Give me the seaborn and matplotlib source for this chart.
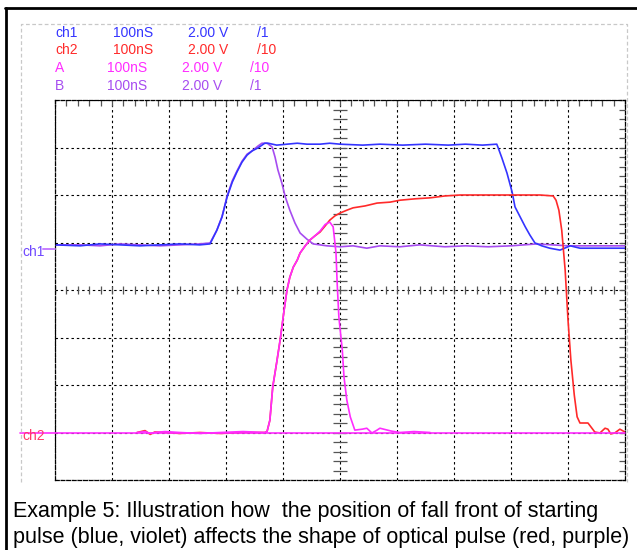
"""
Oscilloscope screenshot: starting pulse (ch1 / B) vs optical pulse (ch2 / A).
Time axis in ns (100 ns/div), vertical axis in screen divisions (2 V/div).
"""

import numpy as np
import pandas as pd
import matplotlib.pyplot as plt
from matplotlib.lines import Line2D
import seaborn as sns

# ---------------------------------------------------------------------------
# Trace data
# ---------------------------------------------------------------------------

CH1_T = [0, 44, 79, 114, 149, 184, 219, 254, 272, 284, 293, 302, 311, 319, 328,
         337, 346, 356, 368, 374, 389, 407, 425, 442, 465, 482, 500, 540, 570,
         610, 650, 690, 720, 750, 775, 777, 784, 793, 802, 807, 816, 825, 833,
         842, 854, 868, 886, 904, 921, 956, 991, 1000]
CH1_V = [0.95, 0.93, 0.97, 0.95, 0.93, 0.95, 0.97, 0.95, 0.97, 1.26, 1.54, 1.96,
         2.27, 2.48, 2.69, 2.84, 2.93, 2.99, 3.09, 3.09, 3.05, 3.07, 3.09, 3.07,
         3.07, 3.09, 3.07, 3.05, 3.07, 3.05, 3.07, 3.05, 3.07, 3.05, 3.07, 3.01,
         2.78, 2.46, 2.06, 1.75, 1.54, 1.33, 1.16, 0.99, 0.93, 0.88, 0.84, 0.93,
         0.88, 0.88, 0.88, 0.88]

B_T = [0, 44, 79, 114, 149, 184, 219, 254, 272, 284, 293, 302, 311, 319, 328,
       337, 346, 356, 363, 372, 381, 386, 391, 398, 404, 412, 421, 430, 442, 453,
       477, 500, 523, 547, 570, 605, 640, 684, 720, 760, 800, 845, 900, 950, 1000]
B_V = [0.95, 0.95, 0.93, 0.97, 0.95, 0.93, 0.95, 0.97, 0.99, 1.26, 1.54, 1.98,
       2.30, 2.50, 2.71, 2.86, 2.93, 3.03, 3.09, 3.09, 3.01, 2.80, 2.53, 2.25,
       1.96, 1.68, 1.41, 1.20, 1.07, 0.97, 0.93, 0.91, 0.93, 0.88, 0.93, 0.91,
       0.95, 0.91, 0.93, 0.91, 0.93, 0.97, 0.93, 0.93, 0.93]

CH2_T = [144, 158, 167, 175, 193, 219, 254, 290, 330, 368, 372, 377, 382, 389,
         395, 402, 407, 412, 418, 425, 430, 439, 447, 456, 465, 474, 482, 491,
         500, 512, 523, 544, 565, 588, 605, 632, 658, 684, 711, 746, 781, 816,
         851, 874, 879, 884, 889, 895, 900, 905, 911, 916, 921, 935, 942, 947,
         956, 965, 970, 975, 982, 991, 1000]
CH2_V = [-3.00, -2.96, -3.04, -2.99, -3.00, -3.02, -3.00, -3.02, -3.00, -3.00,
         -2.98, -2.74, -2.04, -1.52, -1.05, -0.42, 0.00, 0.27, 0.48, 0.63, 0.78,
         0.93, 1.05, 1.14, 1.22, 1.35, 1.47, 1.56, 1.62, 1.68, 1.73, 1.77, 1.83,
         1.85, 1.89, 1.92, 1.94, 1.98, 2.00, 2.00, 2.00, 2.00, 2.00, 1.98, 1.89,
         1.68, 1.26, 0.42, -0.63, -1.47, -2.21, -2.67, -2.80, -2.80, -2.91,
         -2.99, -3.01, -2.91, -2.93, -3.03, -3.01, -2.93, -2.99]

A_T = [144, 158, 167, 175, 193, 219, 254, 290, 330, 368, 372, 377, 382, 389,
       395, 402, 407, 412, 418, 425, 430, 439, 447, 456, 465, 474, 482, 488,
       493, 495, 498, 504, 507, 512, 518, 526, 539, 547, 556, 565, 570, 590,
       605, 630, 658]
A_V = [-3.00, -2.98, -3.02, -3.00, -2.98, -3.00, -3.02, -3.00, -2.98, -3.00,
       -2.98, -2.74, -2.04, -1.52, -1.05, -0.42, 0.00, 0.27, 0.48, 0.63, 0.78,
       0.93, 1.05, 1.14, 1.24, 1.38, 1.43, 1.33, 0.78, 0.15, -0.57, -1.26,
       -1.83, -2.32, -2.67, -2.95, -2.93, -2.91, -3.01, -2.95, -2.91, -2.97,
       -3.00, -2.98, -3.00]

CH1_LEVEL = 0.86
CH2_LEVEL = -3.0

HEADER_ROWS = [
    ("ch1", "100nS", "2.00 V", "/1"),
    ("ch2", "100nS", "2.00 V", "/10"),
    ("A", "100nS", "2.00 V", "/10"),
    ("B", "100nS", "2.00 V", "/1"),
]

CAPTION = ["Example 5: Illustration how  the position of fall front of starting",
           "pulse (blue, violet) affects the shape of optical pulse (red, purple)"]

COLORS = {"ch1": "#3434ff", "ch2": "#ff2a2a", "A": "#ff2cff", "B": "#a64cf0"}

# ---------------------------------------------------------------------------
# Figure layout (pixel helpers for a 637x550 canvas)
# ---------------------------------------------------------------------------

W, H = 637, 550


def fx(x):
    return x / W


def fy(y):
    return 1 - y / H


sns.set_theme(style="white")
plt.rcParams["font.family"] = ["Liberation Sans", "DejaVu Sans"]

fig = plt.figure(figsize=(W / 100, H / 100), dpi=100)
fig.patch.set_facecolor("white")
ax = fig.add_axes([fx(55), fy(480), fx(625) - fx(55), fy(100) - fy(480)])
ax.set_facecolor("white")

# outer black frame (top + left) and light dashed inner box
fig.add_artist(Line2D([fx(6), fx(6)], [0, fy(8)], color="black", lw=2.0))
fig.add_artist(Line2D([fx(5), 1], [fy(8), fy(8)], color="black", lw=2.0))
fig.add_artist(Line2D([fx(21), fx(21), fx(627), fx(627)],
                      [fy(482), fy(24), fy(24), fy(482)],
                      color="#c8c8c8", lw=0.9, ls=(0, (3, 2))))

# ---------------------------------------------------------------------------
# Grid, frame and ticks
# ---------------------------------------------------------------------------

ax.set_xlim(0, 1000)
ax.set_ylim(-4, 4)
ax.set_xticks(np.arange(0, 1001, 100))
ax.set_yticks(np.arange(-4, 4.01, 1))
ax.set_xticks(np.arange(0, 1001, 20), minor=True)
ax.set_yticks(np.arange(-4, 4.01, 0.2), minor=True)
ax.tick_params(which="both", direction="in", top=True, right=True,
               labelbottom=False, labelleft=False, length=4.0, width=0.9,
               color="#555555")
ax.grid(True, which="major", color="black", lw=0.8, ls=(0, (2.2, 2.6)))
for sp in ax.spines.values():
    sp.set_linestyle((0, (3, 1.5)))
    sp.set_linewidth(0.9)
    sp.set_color("black")

# tick marks across the centre cross
minor_x = np.arange(0, 1001, 20)
minor_y = np.arange(-4, 4.01, 0.2)
ax.vlines(minor_x, -0.09, 0.09, color="#555555", lw=0.9)
ax.hlines(minor_y, 488, 512, color="#555555", lw=0.9)

# ---------------------------------------------------------------------------
# Traces
# ---------------------------------------------------------------------------

df = pd.concat([
    pd.DataFrame({"t": B_T, "v": B_V, "trace": "B"}),
    pd.DataFrame({"t": CH1_T, "v": CH1_V, "trace": "ch1"}),
    pd.DataFrame({"t": CH2_T, "v": CH2_V, "trace": "ch2"}),
    pd.DataFrame({"t": A_T, "v": A_V, "trace": "A"}),
], ignore_index=True)

sns.lineplot(data=df, x="t", y="v", hue="trace",
             hue_order=["B", "ch1", "ch2", "A"], palette=COLORS,
             estimator=None, sort=False, lw=1.2, legend=False, ax=ax)
ax.set_xlabel("")
ax.set_ylabel("")

# channel level markers
ax.plot([-61, 1000], [CH2_LEVEL, CH2_LEVEL], color=COLORS["A"], lw=1.2,
        clip_on=False, zorder=5)
ax.plot([-21, 0], [CH1_LEVEL, CH1_LEVEL], color="#c77dff", lw=1.4,
        clip_on=False, zorder=5)
fig.text(fx(22), fy(252), "ch1", color="#7048ff", fontsize=10, va="center")
fig.text(fx(22), fy(436), "ch2", color="#ff3a6a", fontsize=10, va="center")

# ---------------------------------------------------------------------------
# Header and caption
# ---------------------------------------------------------------------------

row_y = [33, 50, 68, 86]
col_x = [[55, 113, 188, 257], [55, 113, 188, 257],
         [55, 107, 182, 250], [55, 107, 182, 250]]
for (row, y, xs) in zip(HEADER_ROWS, row_y, col_x):
    color = COLORS[row[0]]
    for txt, x in zip(row, xs):
        fig.text(fx(x), fy(y), txt, color=color, fontsize=10, va="center")

for line, y in zip(CAPTION, [511, 537]):
    fig.text(fx(13), fy(y), line, color="black", fontsize=15.5, va="center")

fig.savefig("out.png", dpi=100)
